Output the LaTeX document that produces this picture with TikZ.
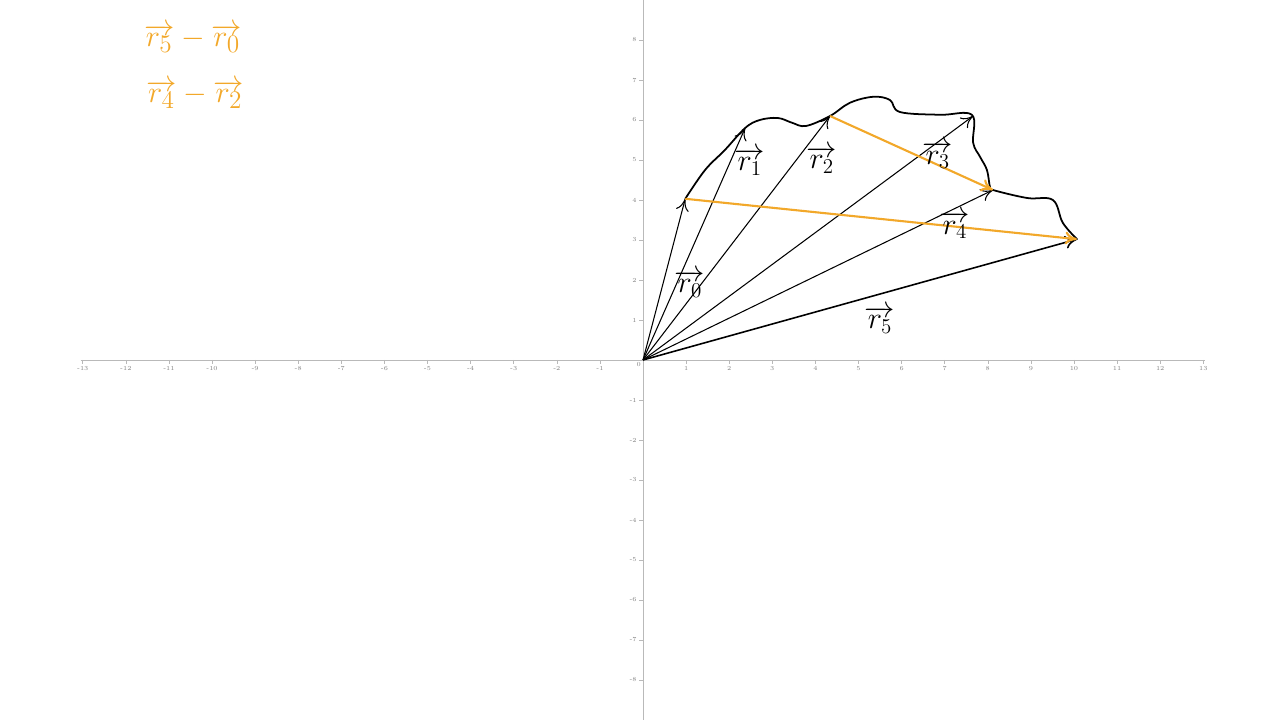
\documentclass[tikz,border=0pt]{standalone}
\usetikzlibrary{arrows.meta}
\definecolor{penorange}{RGB}{242,168,42}
\definecolor{axisgray}{RGB}{185,185,185}
\begin{document}
\begin{tikzpicture}[x=0.862cm,y=0.8cm,
    axis/.style={axisgray,line width=0.5pt},
    ticklabel/.style={gray,font=\fontsize{3.5}{4}\selectfont,inner sep=1pt},
    vec/.style={line width=0.6pt,-{To[length=2.4mm,width=2.6mm]}},
    diff/.style={penorange,line width=1.2pt,-{To[length=2.4mm,width=2.6mm]}},
    veclabel/.style={font=\fontsize{17}{17}\selectfont,inner sep=1pt}]
    \useasboundingbox (-14.92,-9) rectangle (14.78,9);
    % axes
    \draw[axis] (-13.05,0) -- (13.05,0);
    \draw[axis] (0,-9) -- (0,9);
    \foreach \x in {-13,...,-1,1,2,...,13}
        \draw[axis,line width=0.3pt] (\x,0) -- (\x,-0.1) node[ticklabel,below] {\x};
    \foreach \y in {-8,...,-1,1,2,...,8}
        \draw[axis,line width=0.3pt] (0,\y) -- (-0.1,\y) node[ticklabel,left] {\y};
    \node (Zero) [ticklabel,below left] at (0,0) {0};
    % tips of the vectors
    \coordinate (Origin) at (0,0);
    \coordinate (TipZero) at (0.98,4.03);
    \coordinate (TipOne) at (2.37,5.8);
    \coordinate (TipTwo) at (4.34,6.1);
    \coordinate (TipThree) at (7.66,6.1);
    \coordinate (TipFour) at (8.12,4.25);
    \coordinate (TipFive) at (10.07,3.02);
    % path through the tips
    \draw[line width=1pt,line join=round,line cap=round] plot[smooth,tension=0.6] coordinates {
        (TipZero) (1.44,4.75) (1.9,5.25) (TipOne) (2.71,6.0) (3.13,6.05) (3.46,5.93)
        (3.78,5.85) (TipTwo) (4.8,6.43) (5.34,6.58) (5.73,6.5) (5.96,6.2) (6.89,6.13)
        (7.63,6.13) (7.66,5.43) (7.82,5.08) (7.98,4.75) (8.05,4.33) (TipFour)
        (8.91,4.05) (9.51,4.0) (9.74,3.43) (TipFive)};
    % position vectors
    \draw[vec] (Origin) -- (TipZero);
    \draw[vec] (Origin) -- (TipOne);
    \draw[vec] (Origin) -- (TipTwo);
    \draw[vec] (Origin) -- (TipThree);
    \draw[vec] (Origin) -- (TipFour);
    \draw[vec,line width=0.9pt] (Origin) -- (TipFive);
    % differences
    \draw[diff] (TipZero) -- (TipFive);
    \draw[diff] (TipTwo) -- (TipFour);
    \node (LabelZero) [veclabel] at (1.09,1.9) {$\overrightarrow{r_0}$};
    \node (LabelOne) [veclabel] at (2.48,4.95) {$\overrightarrow{r_1}$};
    \node (LabelTwo) [veclabel] at (4.15,5.0) {$\overrightarrow{r_2}$};
    \node (LabelThree) [veclabel] at (6.84,5.12) {$\overrightarrow{r_3}$};
    \node (LabelFour) [veclabel] at (7.24,3.37) {$\overrightarrow{r_4}$};
    \node (LabelFive) [veclabel] at (5.5,1.0) {$\overrightarrow{r_5}$};
    \node (DiffFive) [penorange,font=\fontsize{19}{19}\selectfont] at (-10.44,8.04) {$\overrightarrow{r_5}-\overrightarrow{r_0}$};
    \node (DiffFour) [penorange,font=\fontsize{19}{19}\selectfont] at (-10.39,6.64) {$\overrightarrow{r_4}-\overrightarrow{r_2}$};
\end{tikzpicture}
\end{document}
